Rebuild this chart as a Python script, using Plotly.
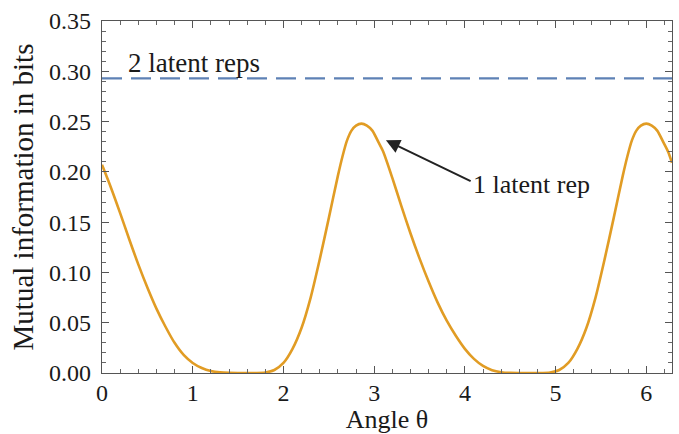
import plotly.graph_objects as go

# Angle theta (radians) and mutual information (bits)
theta = [0.00, 0.10, 0.20, 0.30, 0.40, 0.50, 0.60, 0.70, 0.80, 0.90,
         1.00, 1.10, 1.20, 1.30, 1.40, 1.50, 1.60, 1.70, 1.80, 1.90,
         2.00, 2.10, 2.20, 2.30, 2.40, 2.50, 2.60, 2.65, 2.70, 2.75,
         2.80, 2.86, 2.92, 2.98, 3.05, 3.10, 3.20, 3.30, 3.40, 3.50,
         3.60, 3.70, 3.80, 3.90, 4.00, 4.10, 4.20, 4.30, 4.40, 4.50,
         4.60, 4.70, 4.80, 4.94, 5.04, 5.14, 5.24, 5.34, 5.44, 5.54,
         5.64, 5.74, 5.79, 5.84, 5.89, 5.94, 6.00, 6.06, 6.12, 6.19,
         6.24, 6.283]
mi_one = [0.207, 0.184, 0.159, 0.133, 0.108, 0.085, 0.064, 0.046, 0.030, 0.018,
          0.010, 0.005, 0.002, 0.0006, 0.0001, 0.0, 0.0, 0.0, 0.0005, 0.003,
          0.010, 0.024, 0.045, 0.075, 0.113, 0.154, 0.196, 0.215, 0.231, 0.241,
          0.246, 0.248, 0.246, 0.241, 0.229, 0.220, 0.194, 0.166, 0.139, 0.114,
          0.091, 0.070, 0.052, 0.037, 0.024, 0.014, 0.007, 0.0028, 0.0008, 0.0001,
          0.0, 0.0, 0.0, 0.0005, 0.003, 0.010, 0.024, 0.045, 0.075, 0.113,
          0.154, 0.196, 0.215, 0.231, 0.241, 0.246, 0.248, 0.246, 0.241, 0.229,
          0.220, 0.209]
mi_two = 0.293
x_range = [0, 6.283]
y_range = [0, 0.35]

BLUE = "#5E81B5"
ORANGE = "#E19C24"
FONT = "Liberation Serif"
TXT = "#1a1a1a"

fig = go.Figure()
fig.add_trace(go.Scatter(x=x_range, y=[mi_two, mi_two], mode="lines",
                         line=dict(color=BLUE, width=2.2, dash="20px,9px"),
                         hoverinfo="skip"))
fig.add_trace(go.Scatter(x=theta, y=mi_one, mode="lines",
                         line=dict(color=ORANGE, width=2.6, shape="spline", smoothing=0.7)))

axis_common = dict(
    showline=True, linecolor="#555555", linewidth=1.3, mirror="allticks",
    ticks="inside", ticklen=7, tickwidth=1.2, tickcolor="#555555",
    showgrid=False, zeroline=False, automargin=False,
    tickfont=dict(family=FONT, size=24, color=TXT),
)

fig.update_xaxes(range=x_range, tickmode="array", tickvals=[0, 1, 2, 3, 4, 5, 6],
                 minor=dict(dtick=0.2, ticks="inside", ticklen=4, tickcolor="#666666", showgrid=False),
                 title_text="Angle θ", title_standoff=5, ticklabelstandoff=-2,
                 title_font=dict(family=FONT, size=26, color=TXT), **axis_common)
fig.update_yaxes(range=y_range, dtick=0.05, tickformat=".2f",
                 minor=dict(dtick=0.01, ticks="inside", ticklen=4, tickcolor="#666666", showgrid=False),
                 title_text="Mutual information in bits", title_standoff=6,
                 title_font=dict(family=FONT, size=29, color=TXT),
                 ticklabelstandoff=5, **axis_common)

fig.add_annotation(x=0.26, y=0.308, xref="x", yref="y", text="2 latent reps",
                   showarrow=False, xanchor="left", yanchor="middle",
                   font=dict(family=FONT, size=27, color=TXT))
fig.add_annotation(x=4.07, y=0.1875, xref="x", yref="y", text="1 latent rep",
                   showarrow=False, xanchor="left", yanchor="middle",
                   font=dict(family=FONT, size=26, color=TXT))
fig.add_annotation(x=3.13, y=0.2314, xref="x", yref="y",
                   ax=4.08, ay=0.190, axref="x", ayref="y", text="",
                   showarrow=True, arrowhead=2, arrowsize=1.4, arrowwidth=2,
                   arrowcolor="#222222", standoff=0)

fig.update_layout(
    width=679, height=434, showlegend=False,
    margin=dict(l=102, r=7, t=21, b=61),
    plot_bgcolor="white", paper_bgcolor="white",
)

fig.write_html("out.html", config={"displayModeBar": False},
               post_script="document.body.style.margin='0';")
